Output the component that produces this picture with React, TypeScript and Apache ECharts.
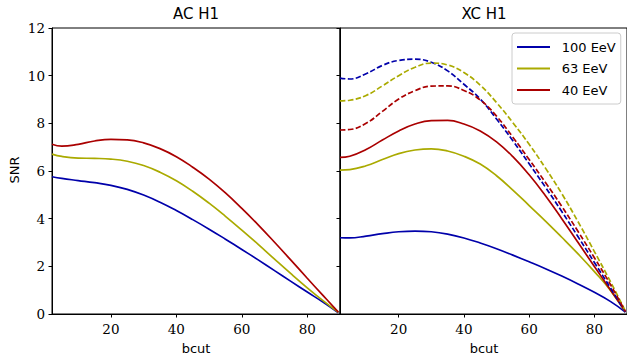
import React, { useEffect, useRef } from "react";
import * as echarts from "echarts";

const bcut = [2, 5, 10, 15, 20, 25, 30, 35, 40, 45, 50, 55, 60, 65, 70, 75, 80, 85, 89.5];

// AC H1 panel (solid)
const acBlue = [5.76, 5.69, 5.6, 5.51, 5.4, 5.23, 4.99, 4.69, 4.34, 3.96, 3.56, 3.14, 2.71, 2.27, 1.82, 1.37, 0.92, 0.48, 0.05];
const acYellow = [6.71, 6.61, 6.54, 6.53, 6.5, 6.41, 6.23, 5.95, 5.59, 5.15, 4.65, 4.1, 3.52, 2.92, 2.3, 1.69, 1.1, 0.54, 0.07];
const acRed = [7.12, 7.04, 7.12, 7.26, 7.33, 7.31, 7.18, 6.94, 6.6, 6.16, 5.66, 5.08, 4.43, 3.74, 3.01, 2.26, 1.5, 0.75, 0.08];

// XC H1 panel (solid)
const xcBlue = [3.2, 3.19, 3.27, 3.37, 3.45, 3.48, 3.45, 3.35, 3.19, 2.98, 2.74, 2.47, 2.19, 1.9, 1.59, 1.26, 0.91, 0.52, 0.08];
const xcYellow = [6.04, 6.06, 6.22, 6.48, 6.73, 6.88, 6.93, 6.84, 6.62, 6.29, 5.8, 5.2, 4.55, 3.9, 3.22, 2.52, 1.78, 0.98, 0.08];
const xcRed = [6.57, 6.62, 6.9, 7.3, 7.68, 7.97, 8.11, 8.12, 7.97, 7.68, 7.22, 6.6, 5.84, 4.96, 4.0, 3.0, 1.99, 1.0, 0.1];

// XC H1 panel (dashed)
const xcBlueDash = [9.9, 9.86, 10.08, 10.43, 10.64, 10.69, 10.56, 10.2, 9.64, 9.02, 8.18, 7.27, 6.3, 5.32, 4.3, 3.24, 2.16, 1.08, 0.08];
const xcYellowDash = [8.94, 8.97, 9.17, 9.57, 10.0, 10.35, 10.53, 10.45, 10.13, 9.6, 8.87, 8.03, 7.12, 6.12, 5.05, 3.87, 2.62, 1.34, 0.12];
const xcRedDash = [7.72, 7.74, 8.0, 8.5, 9.02, 9.37, 9.56, 9.57, 9.38, 8.98, 8.3, 7.42, 6.48, 5.52, 4.52, 3.46, 2.36, 1.22, 0.1];

const xTicks = [20, 40, 60, 80];
const legendNames = ["100 EeV", "63 EeV", "40 EeV"];
const titles = ["AC H1", "XC H1"];

const BLUE = "#0000aa";
const YELLOW = "#aaaa00";
const RED = "#aa0000";

const pair = (ys: number[]) => bcut.map((x, i) => [x, ys[i]]);

const line = (name: string, ys: number[], color: string, idx: number, dashed: boolean) => ({
  type: "line",
  name,
  xAxisIndex: idx,
  yAxisIndex: idx,
  data: pair(ys),
  smooth: 0.45,
  symbol: "none",
  showSymbol: false,
  color,
  itemStyle: { color },
  lineStyle: { color, width: 1.7, type: dashed ? [5.5, 2.4] : "solid" },
  emphasis: { disabled: true },
});

export default function App() {
  const ref = useRef<HTMLDivElement>(null);
  useEffect(() => {
    if (!ref.current) return;
    const chart = echarts.init(ref.current, undefined, { renderer: "svg" });
    const serif = "'DejaVu Serif', serif";
    const sans = "'DejaVu Sans', sans-serif";
    const xAxis = [0, 1].map((i) => ({
      type: "value",
      gridIndex: i,
      min: 2,
      max: 90,
      splitLine: { show: false },
      axisLine: { show: true, onZero: false, lineStyle: { color: "#000", width: 1 } },
      axisTick: { show: true, length: 3.5, customValues: xTicks, lineStyle: { color: "#000" } },
      axisLabel: { show: true, customValues: xTicks, margin: 8, fontFamily: serif, fontSize: 13.5, color: "#000" },
    }));
    const yAxis = [0, 1].map((i) => ({
      type: "value",
      gridIndex: i,
      min: 0,
      max: 12,
      interval: 2,
      splitLine: { show: false },
      axisLine: { show: true, onZero: false, lineStyle: { color: "#000", width: 1 } },
      axisTick: { show: true, length: 3.5, lineStyle: { color: "#000" } },
      axisLabel: { show: i === 0, margin: 7, fontFamily: serif, fontSize: 13.5, color: "#000" },
    }));
    chart.setOption({
      animation: false,
      grid: [
        { left: 52, top: 28, width: 288, height: 286, show: true, borderColor: "#000", borderWidth: 1, backgroundColor: "transparent" },
        { left: 340, top: 28, width: 288, height: 286, show: true, borderColor: "#000", borderWidth: 1, backgroundColor: "transparent" },
      ],
      xAxis,
      yAxis,
      legend: {
        data: legendNames,
        orient: "vertical",
        left: 512,
        top: 33,
        padding: [7, 5, 7, 5],
        itemWidth: 33,
        itemHeight: 2,
        itemGap: 7.5,
        icon: "rect",
        backgroundColor: "rgba(255,255,255,0.8)",
        borderColor: "#cccccc",
        borderWidth: 1,
        borderRadius: 3,
        selectedMode: false,
        textStyle: { fontFamily: sans, fontSize: 13, color: "#000", lineHeight: 14, padding: [0, 0, 0, 6.7] },
      },
      series: [
        line("100 EeV", acBlue, BLUE, 0, false),
        line("63 EeV", acYellow, YELLOW, 0, false),
        line("40 EeV", acRed, RED, 0, false),
        line("XC 100 EeV", xcBlue, BLUE, 1, false),
        line("XC 63 EeV", xcYellow, YELLOW, 1, false),
        line("XC 40 EeV", xcRed, RED, 1, false),
        line("XC 100 EeV dashed", xcBlueDash, BLUE, 1, true),
        line("XC 63 EeV dashed", xcYellowDash, YELLOW, 1, true),
        line("XC 40 EeV dashed", xcRedDash, RED, 1, true),
      ],
      graphic: [
        { type: "text", x: 196, y: 14, style: { text: titles[0], font: `15px ${sans}`, fill: "#000", textAlign: "center", textVerticalAlign: "middle" } },
        { type: "text", x: 484, y: 14, style: { text: titles[1], font: `15px ${sans}`, fill: "#000", textAlign: "center", textVerticalAlign: "middle" } },
        { type: "text", x: 196, y: 348, style: { text: "bcut", font: `13px ${sans}`, fill: "#000", textAlign: "center", textVerticalAlign: "middle" } },
        { type: "text", x: 484, y: 348, style: { text: "bcut", font: `13px ${sans}`, fill: "#000", textAlign: "center", textVerticalAlign: "middle" } },
        { type: "text", x: 14, y: 170, rotation: Math.PI / 2, style: { text: "SNR", font: `13px ${sans}`, fill: "#000", textAlign: "center", textVerticalAlign: "middle" } },
      ],
    });
    return () => chart.dispose();
  }, []);
  return <div ref={ref} style={{ position: "absolute", left: 0, top: 0, width: 627, height: 356 }} />;
}
